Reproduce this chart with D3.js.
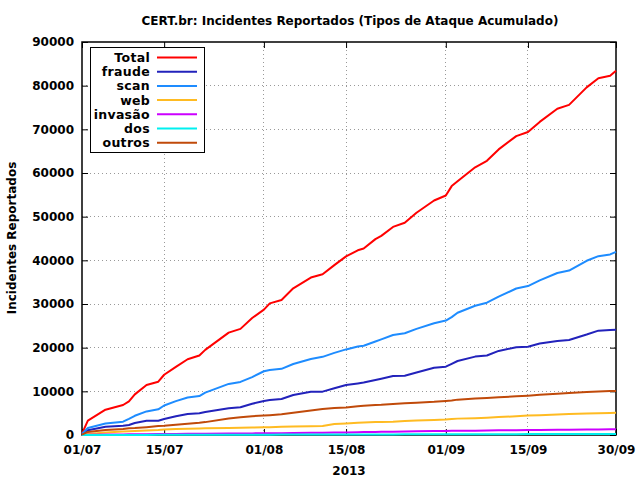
<!DOCTYPE html>
<html>
<head>
<meta charset="utf-8">
<script src="https://cdn.jsdelivr.net/npm/d3@7"></script>
<style>
  html, body { margin: 0; padding: 0; background: #fff; }
  svg { display: block; font-family: "DejaVu Sans", sans-serif; font-weight: bold; }
</style>
</head>
<body>
<svg id="chart" width="640" height="480"></svg>
<script>
// ---- data (days since 01/07/2013) ----
const dayOffsets = [0,1,4,7,8,9,11,13,14,16,18,20,21,25,27,29,31,32,34,36,39,41,43,45,47,48,50,51,53,55,57,60,62,63,64,67,69,71,74,76,78,81,83,86,88,90,91];
const totalValues  = [300,3300,5800,6870,7700,9300,11450,12200,13800,15600,17350,18200,19500,23450,24300,26800,28700,30150,30900,33600,36050,36800,38900,40900,42300,42700,44850,45600,47650,48600,50900,53700,54850,57000,58100,61300,62800,65400,68450,69400,71700,74700,75600,79600,81700,82250,83400];
const fraudeValues = [200,1100,1880,2100,2300,2750,3270,3275,3650,4300,4820,4960,5250,6120,6340,7150,7800,8010,8240,9160,9920,9930,10700,11450,11800,12000,12600,12900,13500,13580,14300,15400,15640,16300,16950,17950,18200,19250,20080,20220,20950,21550,21760,23000,23900,24050,24120];
const scanValues   = [300,1600,2650,3050,3700,4400,5400,5880,6750,7750,8600,8920,9690,11700,12150,13250,14600,14900,15150,16250,17400,17900,18800,19600,20250,20450,21400,21900,22900,23290,24300,25600,26200,27000,28000,29600,30300,31700,33550,34100,35400,37100,37650,39900,40950,41350,41950];
const webValues    = [0,250,600,780,850,900,1050,1150,1250,1350,1420,1480,1520,1620,1660,1700,1750,1800,1880,1920,1980,2050,2500,2650,2800,2850,2950,3000,3050,3200,3300,3450,3550,3650,3750,3850,3950,4100,4300,4450,4550,4700,4800,4900,5000,5050,5100];
const invasaoValues= [0,50,100,140,150,170,200,220,230,250,270,290,300,330,350,370,390,400,420,450,500,530,570,600,640,660,700,720,760,800,840,900,930,950,970,1000,1030,1070,1100,1130,1160,1200,1220,1250,1270,1290,1300];
const dosValues    = [0,5,10,18,20,22,28,32,35,40,45,50,52,62,68,75,80,82,88,95,102,108,115,120,125,128,133,136,140,146,152,160,165,168,170,178,184,190,198,203,208,216,222,230,236,242,245];
const outrosValues = [100,700,1140,1400,1530,1600,1800,2050,2130,2350,2600,2800,2950,3800,4050,4300,4450,4550,4760,5100,5600,5950,6200,6300,6600,6700,6850,6900,7100,7250,7400,7600,7800,7900,8100,8350,8500,8650,8850,9000,9200,9450,9600,9850,9950,10050,10100];

const seriesNames  = ["Total","fraude","scan","web","invasão","dos","outros"];
const seriesColors = ["#ff0000","#2222bb","#1e8cff","#ffbb22","#cc00ff","#00f0f0","#c04a0a"];
const seriesData   = [totalValues,fraudeValues,scanValues,webValues,invasaoValues,dosValues,outrosValues];

const yTickValues = [0,10000,20000,30000,40000,50000,60000,70000,80000,90000];
const xTickLabels = ["2013-07-01","2013-07-15","2013-08-01","2013-08-15","2013-09-01","2013-09-15","2013-09-30"];

const titleText = "CERT.br: Incidentes Reportados (Tipos de Ataque Acumulado)";
const yLabelText = "Incidentes Reportados";
const xLabelText = "2013";

// ---- layout ----
const W = 640, H = 480;
const m = {left: 82, right: 24, top: 42, bottom: 45};
const iw = W - m.left - m.right, ih = H - m.top - m.bottom;

const parse = d3.timeParse("%Y-%m-%d");
const start = parse("2013-07-01");
const dates = dayOffsets.map(d => d3.timeDay.offset(start, d));
const xTicks = xTickLabels.map(parse);

const x = d3.scaleTime().domain([start, parse("2013-09-30")]).range([0, iw]);
const y = d3.scaleLinear().domain([0, 90000]).range([ih, 0]);

const svg = d3.select("#chart");
svg.append("rect").attr("width", W).attr("height", H).attr("fill", "#fff");

svg.append("text").attr("x", 350).attr("y", 25).attr("text-anchor", "middle")
  .attr("font-size", 12).text(titleText);

const g = svg.append("g").attr("transform", `translate(${m.left},${m.top})`);

// grid
const gridColor = "#999";
g.append("g").selectAll("line").data(yTickValues.slice(1, -1)).join("line")
  .attr("x1", 0).attr("x2", iw).attr("y1", d => y(d)).attr("y2", d => y(d))
  .attr("stroke", gridColor).attr("stroke-width", 1).attr("stroke-dasharray", "1,3")
  .attr("shape-rendering", "crispEdges");
g.append("g").selectAll("line").data(xTicks.slice(1, -1)).join("line")
  .attr("x1", d => x(d)).attr("x2", d => x(d)).attr("y1", 0).attr("y2", ih)
  .attr("stroke", gridColor).attr("stroke-width", 1).attr("stroke-dasharray", "1,3")
  .attr("shape-rendering", "crispEdges");

// axes (inward ticks, both sides)
const fmt = d3.timeFormat("%d/%m");
const axL = g.append("g").call(d3.axisLeft(y).tickValues(yTickValues).tickSizeInner(-6).tickSizeOuter(0).tickPadding(8).tickFormat(d3.format("d")));
const axR = g.append("g").attr("transform", `translate(${iw},0)`).call(d3.axisRight(y).tickValues(yTickValues).tickSizeInner(-6).tickSizeOuter(0).tickFormat(""));
const axB = g.append("g").attr("transform", `translate(0,${ih})`).call(d3.axisBottom(x).tickValues(xTicks).tickSizeInner(-6).tickSizeOuter(0).tickPadding(10.5).tickFormat(fmt));
const axT = g.append("g").call(d3.axisTop(x).tickValues(xTicks).tickSizeInner(-6).tickSizeOuter(0).tickFormat(""));
[axL, axR, axB, axT].forEach(a => {
  a.select(".domain").remove();
  a.selectAll("line").attr("stroke", "#000").attr("stroke-width", 1);
  a.selectAll("text").attr("font-size", 12).attr("font-family", "DejaVu Sans, sans-serif").attr("font-weight", "bold").attr("fill", "#000");
});

// frame
g.append("rect").attr("x", 0).attr("y", 0).attr("width", iw).attr("height", ih)
  .attr("fill", "none").attr("stroke", "#000").attr("stroke-width", 1.5);

// lines
const line = d3.line().x((d, i) => x(dates[i])).y(d => y(d));
seriesData.forEach((vals, k) => {
  g.append("path").datum(vals).attr("d", line)
    .attr("fill", "none").attr("stroke", seriesColors[k]).attr("stroke-width", 2)
    .attr("stroke-linejoin", "round");
});

// axis labels
svg.append("text").attr("transform", `translate(16,238) rotate(-90)`).attr("text-anchor", "middle")
  .attr("font-size", 12).text(yLabelText);
svg.append("text").attr("x", 349).attr("y", 475).attr("text-anchor", "middle")
  .attr("font-size", 12).text(xLabelText);

// legend
const lg = svg.append("g");
lg.append("rect").attr("x", 90.5).attr("y", 47.5).attr("width", 114).attr("height", 105)
  .attr("fill", "#fff").attr("stroke", "#000").attr("stroke-width", 1);
seriesNames.forEach((n, k) => {
  const cy = 57.5 + k * 14.2;
  lg.append("text").attr("x", 150).attr("y", cy + 4.5).attr("text-anchor", "end")
    .attr("font-size", 12.5).attr("letter-spacing", 0.3).text(n);
  lg.append("line").attr("x1", 157).attr("x2", 197).attr("y1", cy).attr("y2", cy)
    .attr("stroke", seriesColors[k]).attr("stroke-width", 2);
});
</script>
</body>
</html>
